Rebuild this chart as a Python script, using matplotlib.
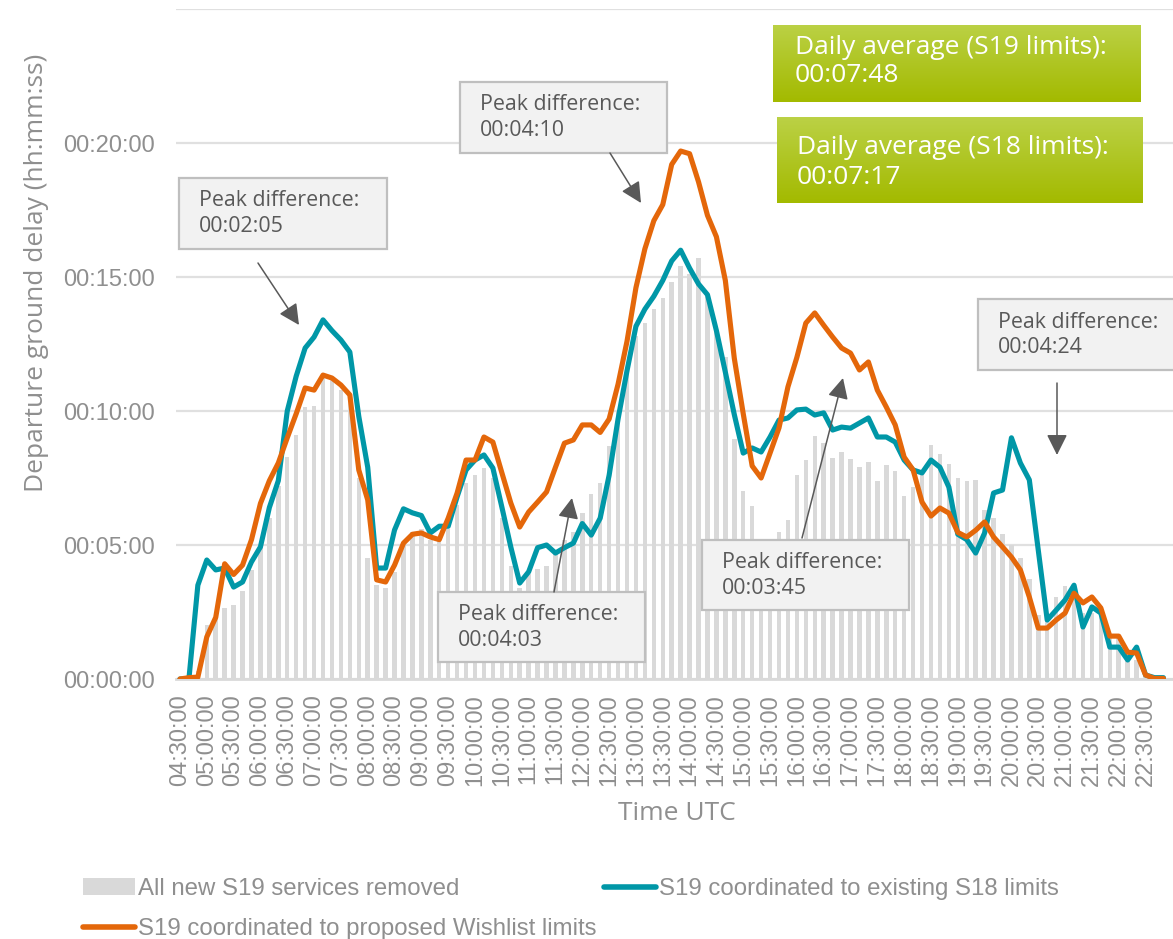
import matplotlib
matplotlib.use("Agg")
import matplotlib.pyplot as plt
import numpy as np
from matplotlib.lines import Line2D
from matplotlib.patches import Patch, Rectangle

# ---------------- data (minutes of delay, 10-minute slots from 04:30) ----------------
tick_labels = ["04:30:00", "05:00:00", "05:30:00", "06:00:00", "06:30:00", "07:00:00",
               "07:30:00", "08:00:00", "08:30:00", "09:00:00", "09:30:00", "10:00:00",
               "10:30:00", "11:00:00", "11:30:00", "12:00:00", "12:30:00", "13:00:00",
               "13:30:00", "14:00:00", "14:30:00", "15:00:00", "15:30:00", "16:00:00",
               "16:30:00", "17:00:00", "17:30:00", "18:00:00", "18:30:00", "19:00:00",
               "19:30:00", "20:00:00", "20:30:00", "21:00:00", "21:30:00", "22:00:00",
               "22:30:00"]

removed = [0, 0, 0.3, 2.0, 2.3, 2.65, 2.76, 3.3, 4.07, 4.93,
           6.0, 7.2, 8.3, 9.1, 10.15, 10.2, 11.3, 11.15, 10.8, 10.5,
           7.5, 4.5, 3.5, 3.4, 4.0, 5.0, 5.5, 5.6, 5.2, 5.3,
           5.6, 6.5, 7.3, 7.6, 7.87, 7.5, 6.0, 4.2, 3.4, 3.9,
           4.1, 4.2, 4.7, 5.2, 5.5, 6.2, 6.9, 7.3, 8.7, 10.0,
           11.5, 12.8, 13.3, 13.8, 14.2, 14.8, 15.4, 15.1, 15.7, 14.3,
           13.0, 12.0, 8.95, 7.0, 6.45, 4.8, 5.0, 5.48, 5.93, 7.6,
           8.17, 9.07, 8.8, 8.25, 8.47, 8.2, 7.9, 8.1, 7.39, 7.98,
           7.76, 6.83, 7.16, 7.6, 8.73, 8.4, 8.02, 7.5, 7.39, 7.43,
           6.3, 6.0, 5.41, 5.0, 4.5, 3.73, 2.39, 2.2, 3.06, 3.47,
           3.2, 2.46, 2.46, 2.69, 1.57, 1.57, 0.97, 0.71, 0.1, 0, 0]

s18_limits = [0, 0.0, 3.5, 4.44, 4.07, 4.14, 3.43, 3.62, 4.37, 4.93,
              6.4, 7.4, 10.0, 11.3, 12.35, 12.76, 13.4, 13.0, 12.65, 12.2,
              9.8, 7.9, 4.14, 4.14, 5.56, 6.35, 6.2, 6.1, 5.45, 5.7,
              5.7, 6.8, 7.8, 8.17, 8.36, 7.87, 6.42, 4.93, 3.58, 4.0,
              4.9, 5.0, 4.7, 4.9, 5.07, 5.8, 5.37, 6.0, 7.6, 9.7,
              11.5, 13.16, 13.8, 14.28, 14.87, 15.6, 16.0, 15.33, 14.74, 14.34,
              13.0, 11.45, 9.87, 8.43, 8.62, 8.47, 9.03, 9.66, 9.74, 10.04,
              10.07, 9.85, 9.93, 9.29, 9.4, 9.36, 9.55, 9.74, 9.03, 9.03,
              8.84, 8.17, 7.8, 7.69, 8.17, 7.9, 7.16, 5.4, 5.2, 4.7,
              5.45, 6.94, 7.05, 9.0, 8.06, 7.43, 4.81, 2.2, 2.57, 2.95,
              3.5, 1.94, 2.69, 2.46, 1.19, 1.19, 0.71, 1.19, 0.15, 0.05, 0.05]

wishlist_limits = [0, 0.05, 0.07, 1.57, 2.3, 4.3, 3.9, 4.25, 5.2, 6.55,
                   7.4, 8.06, 9.0, 9.9, 10.86, 10.78, 11.34, 11.23, 10.97, 10.6,
                   7.8, 6.68, 3.7, 3.62, 4.25, 5.07, 5.4, 5.45, 5.3, 5.2,
                   6.0, 6.94, 8.17, 8.17, 9.03, 8.84, 7.7, 6.57, 5.67, 6.23,
                   6.6, 6.98, 7.9, 8.8, 8.92, 9.48, 9.48, 9.2, 9.7, 11.0,
                   12.6, 14.6, 16.05, 17.1, 17.7, 19.2, 19.7, 19.6, 18.55, 17.3,
                   16.5, 14.87, 11.97, 9.9, 7.95, 7.5, 8.43, 9.37, 10.9, 12.0,
                   13.28, 13.66, 13.2, 12.76, 12.35, 12.16, 11.53, 11.83, 10.78, 10.15,
                   9.48, 8.28, 7.8, 6.6, 6.08, 6.38, 6.19, 5.47, 5.3, 5.55,
                   5.86, 5.3, 4.93, 4.55, 4.07, 3.06, 1.9, 1.9, 2.2, 2.46,
                   3.2, 2.84, 3.06, 2.65, 1.6, 1.6, 1.0, 0.97, 0.15, 0.02, 0.02]

y_ticks = [0, 5, 10, 15, 20]
y_tick_labels = ["00:00:00", "00:05:00", "00:10:00", "00:15:00", "00:20:00"]

series_names = ["All new S19 services removed",
                "S19 coordinated to existing S18 limits",
                "S19 coordinated to proposed Wishlist limits"]

peak_notes = ["Peak difference:\n00:02:05", "Peak difference:\n00:04:10",
              "Peak difference:\n00:04:03", "Peak difference:\n00:03:45",
              "Peak difference:\n00:04:24"]
avg_notes = ["Daily average (S19 limits):\n00:07:48",
             "Daily average (S18 limits):\n00:07:17"]

# ---------------- style ----------------
TEAL = "#0097a7"
ORANGE = "#e4670a"
BARC = "#d9d9d9"
GRID = "#e0e0e0"
TICKC = "#8f8f8f"
NOTEC = "#595959"
SANS = ["Open Sans", "DejaVu Sans"]
ARIAL = ["Liberation Sans", "DejaVu Sans"]

W, H = 1173, 939
fig = plt.figure(figsize=(W / 100, H / 100), dpi=100)


def fx(x):
    return x / W


def fy(y):
    return 1 - y / H


ax = fig.add_axes([fx(175.5), fy(679), 1 - fx(175.5), fy(9) - fy(679)])
x = np.arange(len(removed))

ax.bar(x, removed, width=0.5, color=BARC, zorder=2)
ax.plot(x, s18_limits, color=TEAL, lw=3.7, solid_joinstyle="round",
        solid_capstyle="round", zorder=3)
ax.plot(x, wishlist_limits, color=ORANGE, lw=3.7, solid_joinstyle="round",
        solid_capstyle="round", zorder=4)

ax.set_xlim(-0.5, 111.07)
ax.set_ylim(0, 25)
ax.set_yticks(y_ticks + [25])
ax.set_yticklabels(y_tick_labels + [""], fontfamily=ARIAL, fontsize=17, color=TICKC)
ax.set_xticks(np.arange(0, len(tick_labels) * 3, 3))
ax.set_xticklabels(tick_labels, rotation=90, fontfamily=ARIAL, fontsize=17,
                   color=TICKC)
ax.tick_params(axis="both", length=0)
ax.tick_params(axis="y", pad=15)
ax.tick_params(axis="x", pad=11)
ax.grid(axis="y", color=GRID, lw=1.6, zorder=0)
ax.set_axisbelow(True)
for s in ["left", "right", "top"]:
    ax.spines[s].set_visible(False)
ax.spines["bottom"].set_color(BARC)
ax.spines["bottom"].set_linewidth(2)
ax.spines["bottom"].set_zorder(1)

fig.text(fx(37), fy(273), "Departure ground delay (hh:mm:ss)", rotation=90,
         ha="center", va="center", fontfamily=SANS, fontsize=19, color=TICKC)
fig.text(fx(677), fy(813), "Time UTC", ha="center", va="center",
         fontfamily=SANS, fontsize=19, color=TICKC)

# ---------------- peak difference boxes ----------------
boxes = [(179, 178, 387, 249), (460, 82, 667, 153), (438, 592, 645, 662),
         (702, 540, 909, 610), (978, 299, 1185, 370)]
for (x0, y0, x1, y1), note in zip(boxes, peak_notes):
    r = Rectangle((fx(x0), fy(y1)), fx(x1 - x0), (y1 - y0) / H,
                  transform=fig.transFigure, facecolor="#f2f2f2",
                  edgecolor="#bfbfbf", lw=1.6, zorder=10)
    fig.add_artist(r)
    l1, l2 = note.split("\n")
    fig.text(fx(x0 + 20), fy(y0 + 23), l1, ha="left", va="center",
             fontfamily=SANS, fontsize=15.4, color=NOTEC, zorder=11)
    fig.text(fx(x0 + 20), fy(y0 + 49), l2, ha="left", va="center",
             fontfamily=SANS, fontsize=15.4, color=NOTEC, zorder=11)

arrows = [((258, 263), (299, 325)), ((610, 153), (641, 203)),
          ((554, 592), (572, 498)), ((802, 538), (843, 378)),
          ((1057, 383), (1057, 455))]
for (sx, sy), (tx, ty) in arrows:
    ann = fig.add_artist(matplotlib.text.Annotation(
        "", xy=(fx(tx), fy(ty)), xytext=(fx(sx), fy(sy)),
        xycoords="figure fraction", textcoords="figure fraction",
        arrowprops=dict(arrowstyle="-|>,head_length=0.9,head_width=0.45",
                        color=NOTEC, lw=1.1, shrinkA=0, shrinkB=0,
                        mutation_scale=14)))
    ann.set_zorder(12)

# ---------------- daily average boxes ----------------
grad = np.linspace(0, 1, 64).reshape(-1, 1)
top_c = np.array([0xbb, 0xd1, 0x45]) / 255
bot_c = np.array([0xa3, 0xba, 0x00]) / 255
img = top_c[None, None, :] * (1 - grad[:, :, None]) + bot_c[None, None, :] * grad[:, :, None]
green_boxes = [(773, 25, 1141, 102), (777, 117, 1143, 203)]
green_text = [(795, 47, 76), (797, 147, 177)]
for (x0, y0, x1, y1), (tx, t1, t2), note in zip(green_boxes, green_text, avg_notes):
    gax = fig.add_axes([fx(x0), fy(y1), fx(x1 - x0), (y1 - y0) / H], zorder=20)
    gax.imshow(img, aspect="auto", extent=[0, 1, 0, 1])
    gax.set_axis_off()
    l1, l2 = note.split("\n")
    fig.text(fx(tx), fy(t1), l1, ha="left", va="center", fontfamily=SANS,
             fontsize=19, color="white", zorder=30)
    fig.text(fx(tx), fy(t2), l2, ha="left", va="center", fontfamily=SANS,
             fontsize=19, color="white", zorder=30)

# ---------------- legend ----------------
h_bar = Patch(facecolor=BARC, edgecolor="none", label=series_names[0])
h_teal = Line2D([], [], color=TEAL, lw=4, solid_capstyle="round", label=series_names[1])
h_orange = Line2D([], [], color=ORANGE, lw=4, solid_capstyle="round", label=series_names[2])
leg = fig.legend(handles=[h_bar, h_orange, h_teal], ncol=2, loc="upper left",
                 bbox_to_anchor=(fx(83), fy(878)), frameon=False,
                 prop={"family": ARIAL, "size": 17.3},
                 handlelength=2.15, handletextpad=0.15, columnspacing=0.3,
                 labelspacing=0.75, borderaxespad=0, borderpad=0)
for t in leg.get_texts():
    t.set_color(TICKC)

fig.savefig("out.png", dpi=100)
